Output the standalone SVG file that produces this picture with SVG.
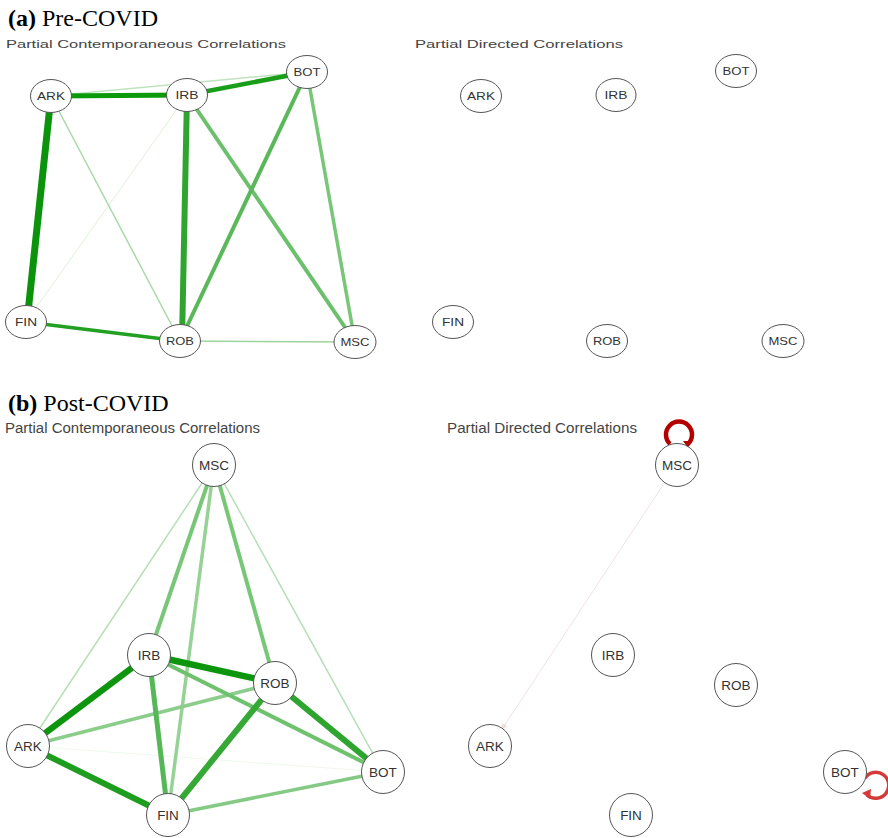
<svg xmlns="http://www.w3.org/2000/svg" width="888" height="838" viewBox="0 0 888 838">
<style>
.ttl{font-family:"Liberation Serif","Times New Roman",serif;font-size:24px;fill:#000}
.sub{font-family:"Liberation Sans",Arial,sans-serif;fill:#444}
.nd ellipse,.nd circle{fill:#fff;stroke:#555;stroke-width:1}
.lt{font-family:"Liberation Sans",Arial,sans-serif;font-size:10.5px;fill:#333;text-anchor:middle;dominant-baseline:central}
.lb{font-family:"Liberation Sans",Arial,sans-serif;font-size:13.5px;fill:#333;text-anchor:middle;dominant-baseline:central}
.e{fill:none;stroke-linecap:butt}
</style>
<defs>
<marker id="fa" viewBox="0 0 10 10" refX="9" refY="5" markerWidth="6" markerHeight="6" orient="auto"><path d="M0,0 L10,5 L0,10 z" fill="#f0dcdc"/></marker>
</defs>
<rect width="888" height="838" fill="#fff"/>
<text class="ttl" x="8" y="26"><tspan font-weight="bold">(a)</tspan> Pre-COVID</text>
<text class="ttl" x="8" y="411"><tspan font-weight="bold">(b)</tspan> Post-COVID</text>
<text class="sub" x="6" y="48" font-size="11.5" textLength="280" lengthAdjust="spacingAndGlyphs">Partial Contemporaneous Correlations</text>
<text class="sub" x="415" y="48" font-size="11.5" textLength="208" lengthAdjust="spacingAndGlyphs">Partial Directed Correlations</text>
<text class="sub" x="5" y="433" font-size="14" textLength="255" lengthAdjust="spacingAndGlyphs">Partial Contemporaneous Correlations</text>
<text class="sub" x="447" y="433" font-size="14" textLength="190" lengthAdjust="spacingAndGlyphs">Partial Directed Correlations</text>
<g id="connectors">
<!-- top-left -->
<line class="e" x1="51" y1="96" x2="307" y2="72" stroke="#bfe3bf" stroke-width="1.5"/>
<line class="e" x1="187" y1="95" x2="26" y2="322" stroke="#dcf0dc" stroke-width="1"/>
<line class="e" x1="51" y1="96" x2="180" y2="341" stroke="#a8d9a8" stroke-width="1.5"/>
<line class="e" x1="180" y1="341" x2="355" y2="342" stroke="#9dd49d" stroke-width="1.5"/>
<line class="e" x1="187" y1="95" x2="355" y2="342" stroke="#6cc06c" stroke-width="4"/>
<line class="e" x1="307" y1="72" x2="355" y2="342" stroke="#78c678" stroke-width="3.5"/>
<line class="e" x1="307" y1="72" x2="180" y2="341" stroke="#5ab85a" stroke-width="4"/>
<line class="e" x1="187" y1="95" x2="182" y2="341" stroke="#2fa52f" stroke-width="6"/>
<line class="e" x1="51" y1="96" x2="187" y2="95" stroke="#0a9a0a" stroke-width="5"/>
<line class="e" x1="187" y1="95" x2="307" y2="72" stroke="#1a9e1a" stroke-width="4.5"/>
<line class="e" x1="51" y1="96" x2="27" y2="322" stroke="#0b940b" stroke-width="7"/>
<line class="e" x1="26" y1="322" x2="180" y2="341" stroke="#22a022" stroke-width="3.5"/>
<!-- bottom-left -->
<line class="e" x1="214" y1="465" x2="28" y2="746" stroke="#b5dfb5" stroke-width="1.5"/>
<line class="e" x1="214" y1="465" x2="383" y2="772" stroke="#b5dfb5" stroke-width="1.5"/>
<line class="e" x1="28" y1="746" x2="383" y2="772" stroke="#eef8ee" stroke-width="1"/>
<line class="e" x1="214" y1="465" x2="149" y2="655" stroke="#78c678" stroke-width="4"/>
<line class="e" x1="214" y1="465" x2="275" y2="683" stroke="#78c678" stroke-width="4"/>
<line class="e" x1="214" y1="465" x2="168" y2="815" stroke="#96d296" stroke-width="3.5"/>
<line class="e" x1="28" y1="746" x2="275" y2="683" stroke="#8ccd8c" stroke-width="3.5"/>
<line class="e" x1="168" y1="815" x2="383" y2="772" stroke="#84ca84" stroke-width="3.5"/>
<line class="e" x1="149" y1="655" x2="383" y2="772" stroke="#6ec26e" stroke-width="4"/>
<line class="e" x1="149" y1="655" x2="168" y2="815" stroke="#55b755" stroke-width="5"/>
<line class="e" x1="275" y1="683" x2="168" y2="815" stroke="#35a835" stroke-width="6"/>
<line class="e" x1="275" y1="683" x2="383" y2="772" stroke="#2ea52e" stroke-width="6"/>
<line class="e" x1="28" y1="746" x2="168" y2="815" stroke="#1f9d1f" stroke-width="6"/>
<line class="e" x1="149" y1="655" x2="28" y2="746" stroke="#0d960d" stroke-width="6.5"/>
<line class="e" x1="149" y1="655" x2="275" y2="683" stroke="#0d960d" stroke-width="6.5"/>
<!-- bottom-right -->
<line class="e" x1="665" y1="482" x2="502" y2="729" stroke="#f0e2e2" stroke-width="1" marker-end="url(#fa)"/>
<path class="e" d="M670 444 A13 13 0 1 1 688 444" stroke="#b30000" stroke-width="4.5"/>
<path d="M683 441 L692 441 L688 448 z" fill="#b30000"/>
<path class="e" d="M865 778 A13 13 0 1 1 867 795" stroke="#d43a3a" stroke-width="3.5"/>
<path d="M862 793 L871 789 L870 799 z" fill="#d43a3a"/>
</g>
<!-- top-left nodes -->
<g id="tl-ARK" class="nd"><ellipse cx="51" cy="96" rx="20.5" ry="16.5"/><text class="lt" x="51" y="96" textLength="28" lengthAdjust="spacingAndGlyphs">ARK</text></g>
<g id="tl-IRB" class="nd"><ellipse cx="187" cy="95" rx="20.5" ry="16.5"/><text class="lt" x="187" y="95" textLength="23" lengthAdjust="spacingAndGlyphs">IRB</text></g>
<g id="tl-BOT" class="nd"><ellipse cx="307" cy="72" rx="20.5" ry="16.5"/><text class="lt" x="307" y="72" textLength="27" lengthAdjust="spacingAndGlyphs">BOT</text></g>
<g id="tl-FIN" class="nd"><ellipse cx="26" cy="322" rx="20.5" ry="16.5"/><text class="lt" x="26" y="322" textLength="22" lengthAdjust="spacingAndGlyphs">FIN</text></g>
<g id="tl-ROB" class="nd"><ellipse cx="180" cy="341" rx="20.5" ry="16.5"/><text class="lt" x="180" y="341" textLength="28" lengthAdjust="spacingAndGlyphs">ROB</text></g>
<g id="tl-MSC" class="nd"><ellipse cx="355" cy="342" rx="21" ry="16.5"/><text class="lt" x="355" y="342" textLength="29" lengthAdjust="spacingAndGlyphs">MSC</text></g>
<!-- top-right nodes -->
<g id="tr-ARK" class="nd"><ellipse cx="481" cy="96" rx="20.5" ry="16.5"/><text class="lt" x="481" y="96" textLength="28" lengthAdjust="spacingAndGlyphs">ARK</text></g>
<g id="tr-IRB" class="nd"><ellipse cx="616" cy="95" rx="20" ry="16.5"/><text class="lt" x="616" y="95" textLength="23" lengthAdjust="spacingAndGlyphs">IRB</text></g>
<g id="tr-BOT" class="nd"><ellipse cx="736" cy="71" rx="20.5" ry="16.5"/><text class="lt" x="736" y="71" textLength="27" lengthAdjust="spacingAndGlyphs">BOT</text></g>
<g id="tr-FIN" class="nd"><ellipse cx="453" cy="322" rx="20.5" ry="16.5"/><text class="lt" x="453" y="322" textLength="22" lengthAdjust="spacingAndGlyphs">FIN</text></g>
<g id="tr-ROB" class="nd"><ellipse cx="607" cy="341" rx="20.5" ry="16.5"/><text class="lt" x="607" y="341" textLength="28" lengthAdjust="spacingAndGlyphs">ROB</text></g>
<g id="tr-MSC" class="nd"><ellipse cx="783" cy="341" rx="21" ry="16.5"/><text class="lt" x="783" y="341" textLength="29" lengthAdjust="spacingAndGlyphs">MSC</text></g>
<!-- bottom-left nodes -->
<g id="bl-MSC" class="nd"><circle cx="214" cy="465" r="21.5"/><text class="lb" x="214" y="465">MSC</text></g>
<g id="bl-IRB" class="nd"><circle cx="149" cy="655" r="21.5"/><text class="lb" x="149" y="655">IRB</text></g>
<g id="bl-ROB" class="nd"><circle cx="275" cy="683" r="21.5"/><text class="lb" x="275" y="683">ROB</text></g>
<g id="bl-ARK" class="nd"><circle cx="28" cy="746" r="21.5"/><text class="lb" x="28" y="746">ARK</text></g>
<g id="bl-BOT" class="nd"><circle cx="383" cy="772" r="21.5"/><text class="lb" x="383" y="772">BOT</text></g>
<g id="bl-FIN" class="nd"><circle cx="168" cy="815" r="21.5"/><text class="lb" x="168" y="815">FIN</text></g>
<!-- bottom-right nodes -->
<g id="br-MSC" class="nd"><circle cx="677" cy="465" r="21.5"/><text class="lb" x="677" y="465">MSC</text></g>
<g id="br-IRB" class="nd"><circle cx="613" cy="655" r="21.5"/><text class="lb" x="613" y="655">IRB</text></g>
<g id="br-ROB" class="nd"><circle cx="736" cy="685" r="21.5"/><text class="lb" x="736" y="685">ROB</text></g>
<g id="br-ARK" class="nd"><circle cx="490" cy="746" r="21.5"/><text class="lb" x="490" y="746">ARK</text></g>
<g id="br-BOT" class="nd"><circle cx="845" cy="772" r="21.5"/><text class="lb" x="845" y="772">BOT</text></g>
<g id="br-FIN" class="nd"><circle cx="631" cy="815" r="21.5"/><text class="lb" x="631" y="815">FIN</text></g>
</svg>
